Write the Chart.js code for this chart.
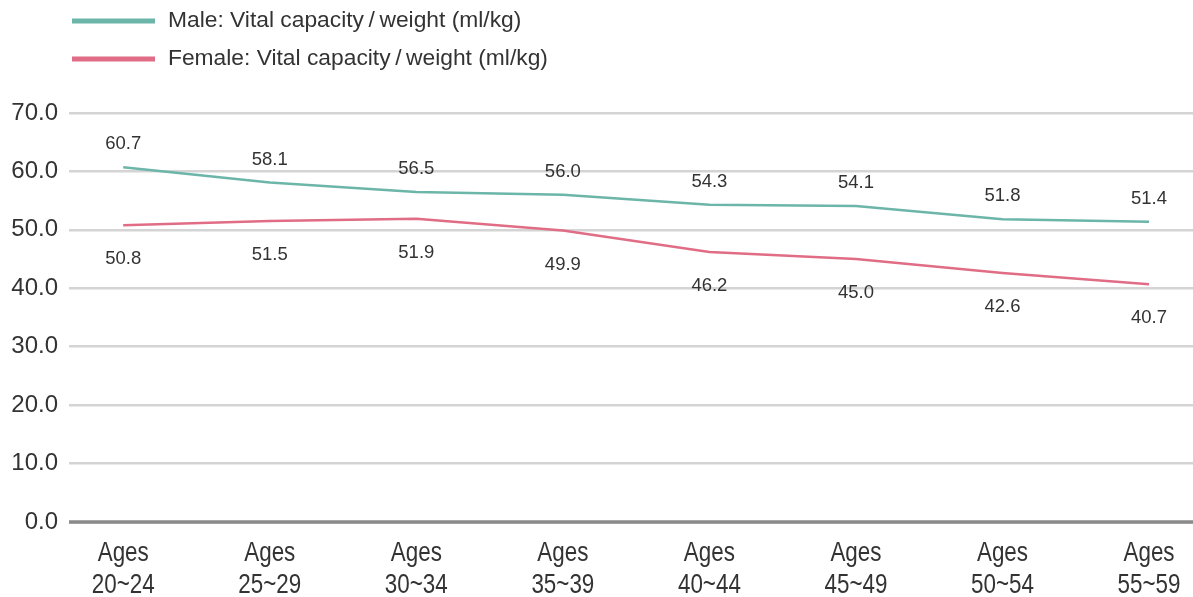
<!DOCTYPE html>
<html lang="en">
<head>
<meta charset="UTF-8">
<title>Vital capacity / weight by age</title>
<script src="https://cdn.jsdelivr.net/npm/chart.js"></script>
<style>
    html, body { margin: 0; padding: 0; background: #fff; }
    .chart-box { position: relative; width: 1193px; height: 597px; }
</style>
</head>
<body>
<div class="chart-box">
    <canvas id="vitalChart"></canvas>
</div>
<script>
const categories = [
    ["Ages", "20~24"], ["Ages", "25~29"], ["Ages", "30~34"], ["Ages", "35~39"],
    ["Ages", "40~44"], ["Ages", "45~49"], ["Ages", "50~54"], ["Ages", "55~59"]
];
const maleValues = [60.7, 58.1, 56.5, 56.0, 54.3, 54.1, 51.8, 51.4];
const femaleValues = [50.8, 51.5, 51.9, 49.9, 46.2, 45.0, 42.6, 40.7];
const yTicks = [0, 10, 20, 30, 40, 50, 60, 70];

const maleColor = '#6cb5a9';
const femaleColor = '#e06d85';
const textColor = '#333';
const baseFont = '"Liberation Sans", Arial, sans-serif';

// stacked legend, top left
const stackedLegend = {
    id: 'stackedLegend',
    afterDraw(chart) {
        const ctx = chart.ctx;
        ctx.save();
        ctx.font = '22.8px ' + baseFont;
        ctx.textBaseline = 'middle';
        chart.data.datasets.forEach((ds, i) => {
            const y = 21 + i * 38;
            ctx.fillStyle = ds.borderColor;
            ctx.fillRect(72, y - 2.5, 83, 5);
            ctx.fillStyle = textColor;
            ctx.fillText(ds.label, 168, y);
        });
        ctx.restore();
    }
};

// value labels above (male) / below (female) each point
const valueLabels = {
    id: 'valueLabels',
    afterDatasetsDraw(chart) {
        const ctx = chart.ctx;
        ctx.save();
        ctx.font = '18.5px ' + baseFont;
        ctx.fillStyle = textColor;
        ctx.textAlign = 'center';
        ctx.textBaseline = 'middle';
        chart.data.datasets.forEach((ds, i) => {
            const meta = chart.getDatasetMeta(i);
            const shift = i === 0 ? -23 : 34;
            meta.data.forEach((pt, j) => {
                ctx.fillText(ds.data[j].y.toFixed(1), pt.x, pt.y + shift);
            });
        });
        ctx.restore();
    }
};

// heavier zero line + condensed two-line category labels
const axisExtras = {
    id: 'axisExtras',
    afterDatasetsDraw(chart) {
        const { ctx, chartArea, scales } = chart;
        const y0 = scales.y.getPixelForValue(0);
        ctx.save();
        ctx.strokeStyle = '#8a8a8a';
        ctx.lineWidth = 3.5;
        ctx.beginPath();
        ctx.moveTo(chartArea.left, y0);
        ctx.lineTo(chartArea.right, y0);
        ctx.stroke();

        ctx.fillStyle = textColor;
        ctx.font = '27px ' + baseFont;
        ctx.textAlign = 'center';
        ctx.textBaseline = 'middle';
        categories.forEach((lines, i) => {
            const x = scales.x.getPixelForValue(i);
            lines.forEach((txt, k) => {
                ctx.save();
                ctx.translate(x, y0 + 32 + k * 32);
                ctx.scale(0.83, 1);
                ctx.fillText(txt, 0, 0);
                ctx.restore();
            });
        });
        ctx.restore();
    }
};

new Chart(document.getElementById('vitalChart'), {
    type: 'line',
    data: {
        datasets: [
            {
                label: 'Male: Vital capacity\u2009/\u2009weight (ml/kg)',
                data: maleValues.map((v, i) => ({ x: i, y: v })),
                borderColor: maleColor,
                backgroundColor: maleColor,
                borderWidth: 2.5,
                pointRadius: 0,
                tension: 0
            },
            {
                label: 'Female: Vital capacity\u2009/\u2009weight (ml/kg)',
                data: femaleValues.map((v, i) => ({ x: i, y: v })),
                borderColor: femaleColor,
                backgroundColor: femaleColor,
                borderWidth: 2.5,
                pointRadius: 0,
                tension: 0
            }
        ]
    },
    options: {
        responsive: true,
        maintainAspectRatio: false,
        animation: false,
        layout: { padding: { left: 0, right: 0, top: 113, bottom: 0 } },
        scales: {
            x: {
                type: 'linear',
                min: -0.37,
                max: 7.3,
                afterBuildTicks: (scale) => {
                    scale.ticks = categories.map((_, i) => ({ value: i }));
                },
                afterFit: (scale) => { scale.height = 75; },
                grid: { display: false },
                border: { display: false },
                ticks: { display: false }
            },
            y: {
                min: 0,
                max: 70,
                afterBuildTicks: (scale) => {
                    scale.ticks = yTicks.map(v => ({ value: v }));
                },
                afterFit: (scale) => { scale.width = 69; },
                grid: { color: '#d4d4d4', lineWidth: 2.5, drawTicks: false },
                border: { display: false },
                ticks: {
                    padding: 11,
                    color: textColor,
                    font: { family: baseFont, size: 24 },
                    callback: (v) => v.toFixed(1)
                }
            }
        },
        plugins: {
            legend: { display: false },
            tooltip: { enabled: false }
        }
    },
    plugins: [valueLabels, axisExtras, stackedLegend]
});
</script>
</body>
</html>
